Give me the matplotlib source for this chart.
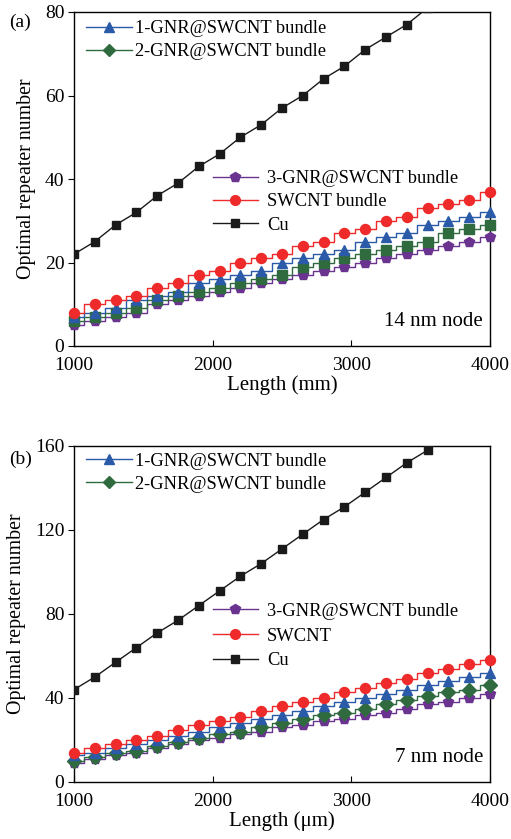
import matplotlib
matplotlib.use("Agg")
import matplotlib.pyplot as plt
from matplotlib.lines import Line2D

plt.rcParams['font.family'] = ['Liberation Serif', 'DejaVu Serif']

# ---------------- data ----------------
length = [1000, 1150, 1300, 1450, 1600, 1750, 1900, 2050, 2200, 2350, 2500,
          2650, 2800, 2950, 3100, 3250, 3400, 3550, 3700, 3850, 4000]

# panel (a) 14 nm node
a_gnr1 = [7, 8, 9, 11, 12, 13, 15, 16, 17, 18, 20, 21, 22, 23, 25, 26, 27, 29, 30, 31, 32]
a_gnr2 = [6, 7, 8, 9, 11, 12, 13, 14, 15, 16, 17, 19, 20, 21, 22, 23, 24, 25, 27, 28, 29]
a_gnr3 = [5, 6, 7, 8, 10, 11, 12, 13, 14, 15, 16, 17, 18, 19, 20, 21, 22, 23, 24, 25, 26]
a_swcnt = [8, 10, 11, 12, 14, 15, 17, 18, 20, 21, 22, 24, 25, 27, 28, 30, 31, 33, 34, 35, 37]
a_cu = [22, 25, 29, 32, 36, 39, 43, 46, 50, 53, 57, 60, 64, 67, 71, 74, 77, 81]

# panel (b) 7 nm node
b_gnr1 = [13, 14, 16, 18, 20, 22, 24, 26, 28, 30, 32, 34, 36, 38, 40, 42, 44, 46, 48, 50, 52]
b_gnr2 = [10, 12, 14, 15, 17, 19, 21, 23, 24, 26, 28, 30, 32, 33, 35, 37, 39, 41, 43, 44, 46]
b_gnr3 = [9, 11, 13, 14, 16, 18, 20, 21, 23, 24, 26, 27, 29, 30, 32, 33, 35, 37, 38, 40, 42]
b_swcnt = [14, 16, 18, 20, 22, 25, 27, 29, 31, 34, 36, 38, 40, 43, 45, 47, 49, 52, 54, 56, 58]
b_cu = [44, 50, 57, 64, 71, 77, 84, 91, 98, 104, 111, 118, 125, 131, 138, 145, 152, 158, 165]

# ---------------- styles ----------------
C_BLUE = '#2B5BA8'
C_GREEN = '#2F6B3F'
C_PURPLE = '#6A3390'
C_RED = '#EE2A2A'
C_BLACK = '#1A1A1A'
MS = 6.5
FS_TICK = 14
FS_YLAB = 14.3
FS_XLAB = 15
FS_LEG = 13.3
FS_NODE = 15

fig = plt.figure(figsize=(5.11, 8.39), dpi=100)
L, R = 74 / 511, 490 / 511
axA = fig.add_axes([L, 1 - 346 / 839, R - L, (346 - 12) / 839])
axB = fig.add_axes([L, 1 - 782 / 839, R - L, (782 - 446) / 839])


def draw(ax, g1, g2, g3, sw, cu, g2marker):
    ax.plot(length[:len(cu)], cu, color=C_BLACK, lw=1.0, marker='s', ms=MS - 0.3,
            mfc=C_BLACK, mec=C_BLACK, zorder=3)
    ax.plot(length, g3, color=C_PURPLE, lw=1.0, drawstyle='steps-mid', zorder=2)
    ax.plot(length, g3, ls='none', marker='p', ms=MS + 0.7, mfc=C_PURPLE, mec=C_PURPLE,
            zorder=4, clip_on=False)
    ax.plot(length, g2, color=C_GREEN, lw=1.0, drawstyle='steps-mid', zorder=2)
    ax.plot(length, g2, ls='none', marker=g2marker, ms=MS if g2marker == 's' else MS + 0.5,
            mfc=C_GREEN, mec=C_GREEN, zorder=4, clip_on=False)
    ax.plot(length, g1, color=C_BLUE, lw=1.0, drawstyle='steps-mid', zorder=2)
    ax.plot(length, g1, ls='none', marker='^', ms=MS + 0.7, mfc=C_BLUE, mec=C_BLUE,
            zorder=4, clip_on=False)
    ax.plot(length, sw, color=C_RED, lw=1.0, drawstyle='steps-mid', zorder=2)
    ax.plot(length, sw, ls='none', marker='o', ms=MS + 0.7, mfc=C_RED, mec=C_RED,
            zorder=4, clip_on=False)


def h(color, marker, ms=MS + 0.5):
    return Line2D([], [], color=color, lw=1.0, marker=marker, ms=ms, mfc=color, mec=color)


def style(ax, ymax, yticks, xlabel, tag, node, swlabel, leg1_y, leg2_y, tag_y, spacing2):
    ax.set_xlim(1000, 4000)
    ax.set_ylim(0, ymax)
    ax.set_xticks([1000, 2000, 3000, 4000])
    ax.set_yticks(yticks)
    ax.tick_params(axis='x', direction='in', length=4, width=0.8, labelsize=FS_TICK, pad=8)
    ax.tick_params(axis='y', direction='out', length=4, width=0.8, labelsize=FS_TICK, pad=3)
    for s in ax.spines.values():
        s.set_linewidth(1.0)
    ax.set_xlabel(xlabel, fontsize=FS_XLAB, labelpad=1)
    ax.set_ylabel('Optimal repeater number', fontsize=FS_YLAB, labelpad=6)
    ax.text(-0.155, tag_y, tag, transform=ax.transAxes, fontsize=FS_TICK, ha='left', va='top')
    ax.text(0.983, 0.045, node, transform=ax.transAxes, fontsize=FS_NODE, ha='right', va='bottom')

    leg1 = ax.legend([h(C_BLUE, '^'), h(C_GREEN, 'D', MS - 0.5)],
                     ['1-GNR@SWCNT bundle', '2-GNR@SWCNT bundle'],
                     loc='upper left', bbox_to_anchor=(0.03, leg1_y), frameon=False,
                     fontsize=FS_LEG, handlelength=2.45, handletextpad=0.15,
                     labelspacing=0.33, borderpad=0, borderaxespad=0)
    ax.add_artist(leg1)
    ax.legend([h(C_PURPLE, 'p'), h(C_RED, 'o'), h(C_BLACK, 's', MS - 0.5)],
              ['3-GNR@SWCNT bundle', swlabel, 'Cu'],
              loc='upper left', bbox_to_anchor=(0.333, leg2_y), frameon=False,
              fontsize=FS_LEG, handlelength=2.45, handletextpad=0.5,
              labelspacing=spacing2, borderpad=0, borderaxespad=0)


draw(axA, a_gnr1, a_gnr2, a_gnr3, a_swcnt, a_cu, 's')
style(axA, 80, [0, 20, 40, 60, 80], 'Length (mm)', '(a)', '14 nm node', 'SWCNT bundle',
      0.975, 0.526, 0.995, 0.33)
draw(axB, b_gnr1, b_gnr2, b_gnr3, b_swcnt, b_cu, 'D')
style(axB, 160, [0, 40, 80, 120, 160], 'Length (μm)', '(b)', '7 nm node', 'SWCNT',
      0.98, 0.533, 0.985, 0.42)

fig.savefig('out.png', dpi=100)
